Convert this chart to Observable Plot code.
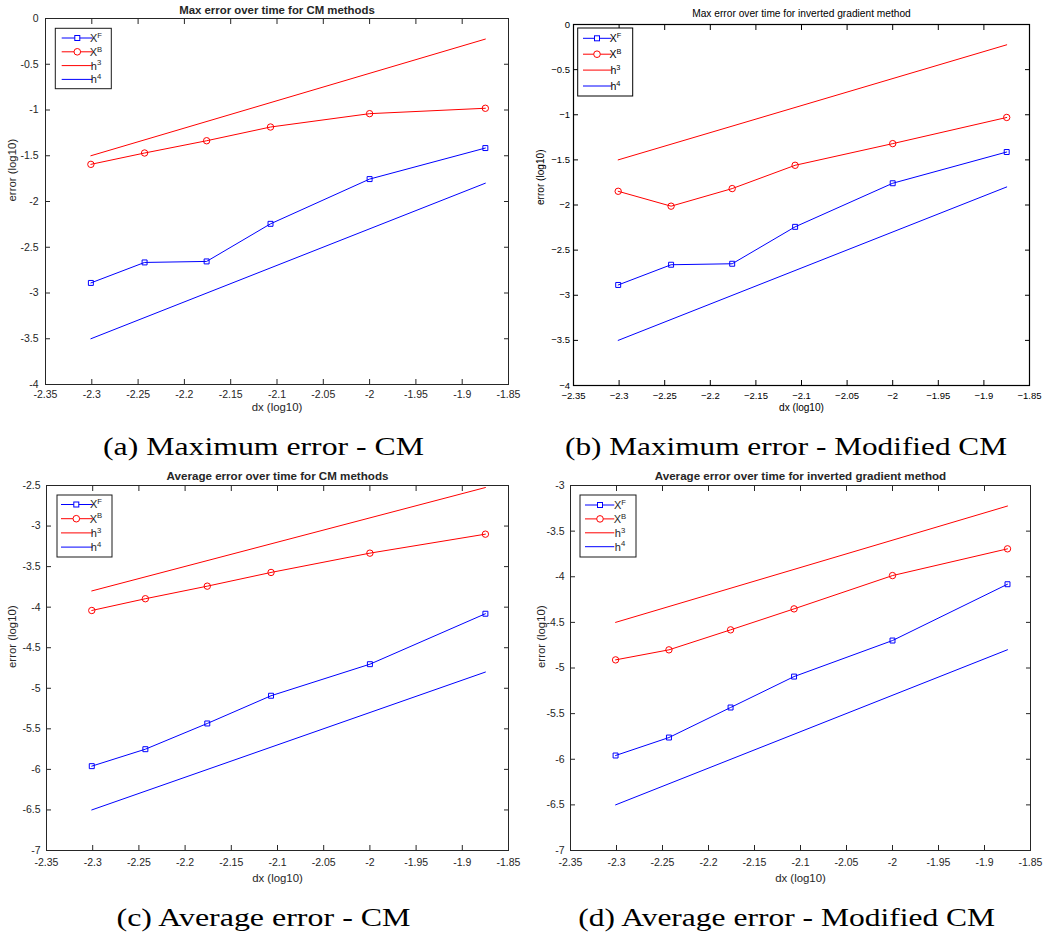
<!DOCTYPE html>
<html><head><meta charset="utf-8">
<script src="https://cdn.jsdelivr.net/npm/d3@7"></script>
<script src="https://cdn.jsdelivr.net/npm/@observablehq/plot@0.6"></script>
<style>
body{margin:0;background:#fff;}
#root{position:relative;width:1045px;height:936px;overflow:hidden;background:#fff;}
.panel{position:absolute;}
.panel svg{max-width:none;display:block;}
#caps{position:absolute;left:0;top:0;pointer-events:none;}
</style></head><body><div id="root"></div><script>
// ---- data (log10 values) ----
const dxLog = [-2.301, -2.243, -2.176, -2.107, -2.0, -1.875];
const refX = [-2.301, -1.875];
const xTicks = [-2.35, -2.3, -2.25, -2.2, -2.15, -2.1, -2.05, -2, -1.95, -1.9, -1.85];
const yTicksMax = [-4, -3.5, -3, -2.5, -2, -1.5, -1, -0.5, 0];
const yTicksAvgCM = [-7, -6.5, -6, -5.5, -5, -4.5, -4, -3.5, -3, -2.5];
const yTicksAvgInv = [-7, -6.5, -6, -5.5, -5, -4.5, -4, -3.5, -3];

const maxCM_xF = [-2.890, -2.666, -2.655, -2.244, -1.755, -1.416];
const maxCM_xB = [-1.594, -1.470, -1.336, -1.186, -1.040, -0.981];
const maxCM_h3 = [-1.5, -0.225];
const maxCM_h4 = [-3.5, -1.8];

const maxInv_xF = [-2.886, -2.662, -2.651, -2.242, -1.759, -1.413];
const maxInv_xB = [-1.848, -2.013, -1.818, -1.560, -1.320, -1.030];
const maxInv_h3 = [-1.5, -0.225];
const maxInv_h4 = [-3.5, -1.8];

const avgCM_xF = [-5.960, -5.751, -5.434, -5.092, -4.703, -4.081];
const avgCM_xB = [-4.041, -3.896, -3.741, -3.572, -3.334, -3.100];
const avgCM_h3 = [-3.8, -2.525];
const avgCM_h4 = [-6.5, -4.8];

const avgInv_xF = [-5.959, -5.762, -5.433, -5.094, -4.699, -4.082];
const avgInv_xB = [-4.911, -4.801, -4.582, -4.352, -3.987, -3.694];
const avgInv_h3 = [-4.5, -3.225];
const avgInv_h4 = [-6.5, -4.8];

const titles = [
  "Max error over time for CM methods",
  "Max error over time for inverted gradient method",
  "Average error over time for CM methods",
  "Average error over time for inverted gradient method"
];
const captions = [
  "(a) Maximum error - CM",
  "(b) Maximum error - Modified CM",
  "(c) Average error - CM",
  "(d) Average error - Modified CM"
];
const xLabel = "dx (log10)";
const yLabel = "error (log10)";
const legendBase = [["X","F"],["X","B"],["h","3"],["h","4"]];

const RED = "#ff0000", BLUE = "#0000ff";
const FONT = "'Liberation Sans', Arial, Helvetica, sans-serif";

function makePanel(cfg) {
  const ptsF = dxLog.map((x, i) => ({x, y: cfg.xF[i]}));
  const ptsB = dxLog.map((x, i) => ({x, y: cfg.xB[i]}));
  const h3 = refX.map((x, i) => ({x, y: cfg.h3[i]}));
  const h4 = refX.map((x, i) => ({x, y: cfg.h4[i]}));
  const fmt = d => {
    let s = String(+(+d).toFixed(2));
    if (s === "-0") s = "0";
    return cfg.minus ? s.replace("-", "\u2212") : s;
  };
  const ink = cfg.ink;
  const svg = Plot.plot({
    width: cfg.w, height: cfg.h,
    marginLeft: cfg.ml, marginRight: cfg.mr, marginTop: cfg.mt, marginBottom: cfg.mb,
    x: {domain: [-2.35, -1.85]},
    y: {domain: cfg.yDomain},
    style: {fontFamily: FONT, fontSize: cfg.tickFont + "px", color: ink, background: "transparent", overflow: "visible"},
    marks: [
      Plot.line(h3, {x: "x", y: "y", stroke: RED, strokeWidth: 1}),
      Plot.line(h4, {x: "x", y: "y", stroke: BLUE, strokeWidth: 1}),
      Plot.line(ptsB, {x: "x", y: "y", stroke: RED, strokeWidth: 1}),
      Plot.dot(ptsB, {x: "x", y: "y", r: 3.2, stroke: RED, fill: "none", strokeWidth: 1}),
      Plot.line(ptsF, {x: "x", y: "y", stroke: BLUE, strokeWidth: 1}),
      Plot.dot(ptsF, {x: "x", y: "y", symbol: "square", r: 2.8, stroke: BLUE, fill: "none", strokeWidth: 1}),
      Plot.frame({stroke: ink, strokeWidth: cfg.frameW}),
      Plot.axisX(xTicks, {anchor: "bottom", tickSize: 0, tickPadding: cfg.xpad, tickFormat: fmt, label: null, fill: ink}),
      Plot.axisX(xTicks, {anchor: "bottom", tickSize: -5, fill: "none", label: null, stroke: ink}),
      Plot.axisX(xTicks, {anchor: "top", tickSize: -5, fill: "none", label: null, stroke: ink}),
      Plot.axisY(cfg.yTicks, {anchor: "left", tickSize: 0, tickPadding: cfg.ypad, tickFormat: fmt, label: null, fill: ink}),
      Plot.axisY(cfg.yTicks, {anchor: "left", tickSize: -5, fill: "none", label: null, stroke: ink}),
      Plot.axisY(cfg.yTicks, {anchor: "right", tickSize: -5, fill: "none", label: null, stroke: ink}),
      Plot.text([cfg.title], {frameAnchor: "top", lineAnchor: "middle", dy: cfg.titleDy, fontWeight: cfg.titleWeight, fontSize: cfg.titleSize, fill: ink}),
      Plot.text([xLabel], {frameAnchor: "bottom", lineAnchor: "middle", dy: cfg.xlabDy, fontSize: cfg.labSize, fill: ink}),
      Plot.text([yLabel], {frameAnchor: "left", lineAnchor: "middle", dx: cfg.ylabDx, rotate: -90, fontSize: cfg.labSize, fill: ink})
    ]
  });
  // legend (MATLAB style box)
  const L = cfg.leg;
  const g = d3.select(svg).append("g")
    .attr("transform", `translate(${cfg.ml},${cfg.mt})`)
    .attr("font-family", FONT).attr("font-size", L.font);
  g.append("rect").attr("x", L.x).attr("y", L.y).attr("width", L.w).attr("height", L.h)
    .attr("fill", "#fff").attr("stroke", ink === "#000" ? "#000" : "#1a1a1a").attr("stroke-width", 1);
  const colors = [BLUE, RED, RED, BLUE];
  legendBase.forEach((lab, i) => {
    const y = L.rows[i];
    g.append("line").attr("x1", L.l0).attr("x2", L.l1).attr("y1", y).attr("y2", y)
      .attr("stroke", colors[i]).attr("stroke-width", 1);
    if (i === 0) g.append("rect").attr("x", L.m - 2.5).attr("y", y - 2.5).attr("width", 5).attr("height", 5)
      .attr("fill", "#fff").attr("stroke", BLUE);
    if (i === 1) g.append("circle").attr("cx", L.m).attr("cy", y).attr("r", 3.3)
      .attr("fill", "#fff").attr("stroke", RED);
    const t = g.append("text").attr("x", L.t).attr("y", y + L.font * 0.36).attr("fill", ink);
    t.append("tspan").text(lab[0]);
    t.append("tspan").attr("dy", -L.font * 0.38).attr("font-size", L.font * 0.7).text(lab[1]);
  });
  return svg;
}

const panels = [
  {left: 0, top: 0, w: 520, h: 425, ml: 45, mr: 12, mt: 18, mb: 41,
   xF: maxCM_xF, xB: maxCM_xB, h3: maxCM_h3, h4: maxCM_h4, yDomain: [-4, 0], yTicks: yTicksMax,
   title: titles[0], titleWeight: "bold", titleSize: 11.4, titleDy: -8.5,
   ink: "#262626", frameW: 1, minus: false, tickFont: 10.5, labSize: 11.4,
   xpad: 6, ypad: 7, xlabDy: 23.3, ylabDx: -33,
   leg: {x: 10.3, y: 10.3, w: 56, h: 60.4, rows: [20, 33.8, 47.6, 61.4], l0: 16.7, l1: 47.7, m: 32.3, t: 51, font: 11}},
  {left: 520, top: 0, w: 525, h: 425, ml: 53, mr: 16, mt: 24, mb: 40,
   xF: maxInv_xF, xB: maxInv_xB, h3: maxInv_h3, h4: maxInv_h4, yDomain: [-4, 0], yTicks: yTicksMax,
   title: titles[1], titleWeight: "normal", titleSize: 10.2, titleDy: -11,
   ink: "#000", frameW: 1.2, minus: true, tickFont: 9.5, labSize: 10.1,
   xpad: 6.5, ypad: 3.5, xlabDy: 22.5, ylabDx: -33,
   leg: {x: 4.7, y: 4, w: 55, h: 68, rows: [14.3, 30.2, 46.1, 62], l0: 10, l1: 38.4, m: 24, t: 42.4, font: 10.5}},
  {left: 0, top: 470, w: 520, h: 430, ml: 46, mr: 12, mt: 15, mb: 50,
   xF: avgCM_xF, xB: avgCM_xB, h3: avgCM_h3, h4: avgCM_h4, yDomain: [-7, -2.5], yTicks: yTicksAvgCM,
   title: titles[2], titleWeight: "bold", titleSize: 11.6, titleDy: -9,
   ink: "#262626", frameW: 1, minus: false, tickFont: 10.5, labSize: 11.4,
   xpad: 7.8, ypad: 6, xlabDy: 28, ylabDx: -34,
   leg: {x: 11, y: 10, w: 55, h: 62, rows: [19.5, 33.7, 47.9, 62.1], l0: 15, l1: 46.7, m: 30.3, t: 50, font: 11}},
  {left: 520, top: 470, w: 525, h: 430, ml: 50, mr: 15, mt: 15, mb: 50,
   xF: avgInv_xF, xB: avgInv_xB, h3: avgInv_h3, h4: avgInv_h4, yDomain: [-7, -3], yTicks: yTicksAvgInv,
   title: titles[3], titleWeight: "bold", titleSize: 11.6, titleDy: -9,
   ink: "#262626", frameW: 1, minus: false, tickFont: 10.5, labSize: 11.4,
   xpad: 7.8, ypad: 6, xlabDy: 28, ylabDx: -29,
   leg: {x: 10, y: 10, w: 56, h: 62, rows: [20, 33.9, 47.8, 61.7], l0: 15, l1: 44.3, m: 30, t: 50, font: 11}}
];

const root = document.getElementById("root");
panels.forEach(cfg => {
  const div = document.createElement("div");
  div.className = "panel";
  div.style.left = cfg.left + "px";
  div.style.top = cfg.top + "px";
  div.style.width = cfg.w + "px";
  div.style.height = cfg.h + "px";
  div.appendChild(makePanel(cfg));
  root.appendChild(div);
});

// sub-figure captions
const capPos = [
  {x: 263.5, y: 454.5, len: 321},
  {x: 786, y: 454.5, len: 442},
  {x: 263.5, y: 925.7, len: 294},
  {x: 786.7, y: 925.7, len: 416.7}
];
const caps = d3.select(root).append("svg").attr("id", "caps").attr("width", 1045).attr("height", 936);
captions.forEach((c, i) => {
  caps.append("text").attr("x", capPos[i].x - capPos[i].len / 2).attr("y", capPos[i].y)
    .attr("font-family", "'Liberation Serif', 'Times New Roman', serif").attr("font-size", 26)
    .attr("textLength", capPos[i].len).attr("lengthAdjust", "spacingAndGlyphs")
    .attr("fill", "#000").text(c);
});
</script></body></html>
